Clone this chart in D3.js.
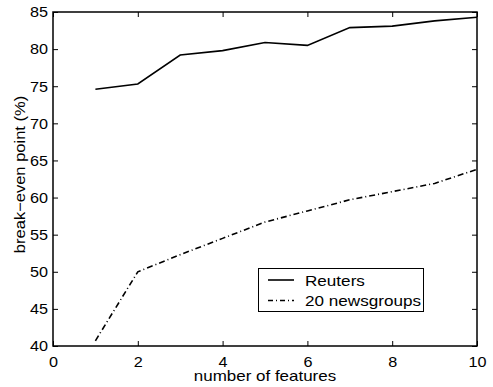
<!DOCTYPE html>
<html>
<head>
<meta charset="utf-8">
<script src="https://cdn.jsdelivr.net/npm/d3@7"></script>
<style>
  body { margin: 0; background: #fff; }
  text { font-family: "Liberation Sans", Arial, sans-serif; fill: #000; }
</style>
</head>
<body>
<div id="container"></div>
<script>
// data
var features = [1, 2, 3, 4, 5, 6, 7, 8, 9, 10];
var reuters = [74.6, 75.3, 79.2, 79.8, 80.9, 80.5, 82.9, 83.1, 83.8, 84.3];
var newsgroups = [40.7, 50.0, 52.3, 54.5, 56.7, 58.2, 59.7, 60.8, 61.9, 63.8];
var xTicks = [0, 2, 4, 6, 8, 10];
var yTicks = [40, 45, 50, 55, 60, 65, 70, 75, 80, 85];
var seriesNames = ["Reuters", "20 newsgroups"];

var width = 493, height = 387;
var plotLeft = 53, plotRight = 477, plotTop = 12, plotBottom = 346;

var svg = d3.select("div#container")
  .append("svg")
  .attr("width", width)
  .attr("height", height);

var x = d3.scaleLinear().domain([0, 10]).range([plotLeft, plotRight]);
var y = d3.scaleLinear().domain([40, 85]).range([plotBottom, plotTop]);

// the original font runs a bit wider than Liberation Sans, stretch it
function widen(sel, k) {
  sel.each(function() {
    var w = this.getComputedTextLength();
    d3.select(this).attr("textLength", w * k).attr("lengthAdjust", "spacingAndGlyphs");
  });
}

// axes (ticks inside, on all four sides)
var tl = 5;
svg.append("g").attr("transform", "translate(0," + plotBottom + ")")
  .call(d3.axisBottom(x).tickValues(xTicks).tickSizeInner(-tl).tickSizeOuter(0).tickPadding(10))
  .call(function(g) { g.selectAll("text").style("font-size", "15px"); widen(g.selectAll("text"), 1.08); });
svg.append("g").attr("transform", "translate(0," + plotTop + ")")
  .call(d3.axisTop(x).tickValues(xTicks).tickSizeInner(-tl).tickSizeOuter(0).tickFormat(""));
svg.append("g").attr("transform", "translate(" + plotLeft + ",0)")
  .call(d3.axisLeft(y).tickValues(yTicks).tickSizeInner(-tl).tickSizeOuter(0).tickPadding(5))
  .call(function(g) { g.selectAll("text").style("font-size", "15px"); widen(g.selectAll("text"), 1.08); });
svg.append("g").attr("transform", "translate(" + plotRight + ",0)")
  .call(d3.axisRight(y).tickValues(yTicks).tickSizeInner(-tl).tickSizeOuter(0).tickFormat(""));

svg.selectAll(".domain").remove();
svg.selectAll(".tick line").attr("stroke", "#000").attr("stroke-width", 1);
svg.append("rect")
  .attr("x", plotLeft).attr("y", plotTop)
  .attr("width", plotRight - plotLeft).attr("height", plotBottom - plotTop)
  .attr("fill", "none").attr("stroke", "#000").attr("stroke-width", 1.5);

// lines
var line = d3.line()
  .x(function(d) { return x(d[0]); })
  .y(function(d) { return y(d[1]); });

svg.append("path")
  .datum(d3.zip(features, reuters))
  .attr("d", line)
  .attr("fill", "none").attr("stroke", "#000").attr("stroke-width", 1.6);

svg.append("path")
  .datum(d3.zip(features, newsgroups))
  .attr("d", line)
  .attr("fill", "none").attr("stroke", "#000").attr("stroke-width", 1.6)
  .attr("stroke-dasharray", "6,3,1,3");

// axis labels
svg.append("text")
  .attr("x", 265).attr("y", 381)
  .attr("text-anchor", "middle").style("font-size", "14.5px")
  .text("number of features")
  .call(widen, 1.17);
svg.append("text")
  .attr("transform", "translate(25,174.5) rotate(-90)")
  .attr("text-anchor", "middle").style("font-size", "15px")
  .text("break\u2212even point (%)")
  .call(widen, 1.1);

// legend
var lg = svg.append("g");
lg.append("rect")
  .attr("x", 258.5).attr("y", 268.5).attr("width", 165).attr("height", 43)
  .attr("fill", "#fff").attr("stroke", "#000").attr("stroke-width", 1);
var dashes = [null, "5,3,1,3"];
seriesNames.forEach(function(name, i) {
  var yy = 280 + i * 20.5;
  lg.append("line")
    .attr("x1", 268).attr("x2", 294).attr("y1", yy).attr("y2", yy)
    .attr("stroke", "#000").attr("stroke-width", 1.6)
    .attr("stroke-dasharray", dashes[i]);
  lg.append("text")
    .attr("x", 305).attr("y", yy + 5.5)
    .style("font-size", "15px")
    .text(name)
    .call(widen, 1.14);
});
</script>
</body>
</html>
